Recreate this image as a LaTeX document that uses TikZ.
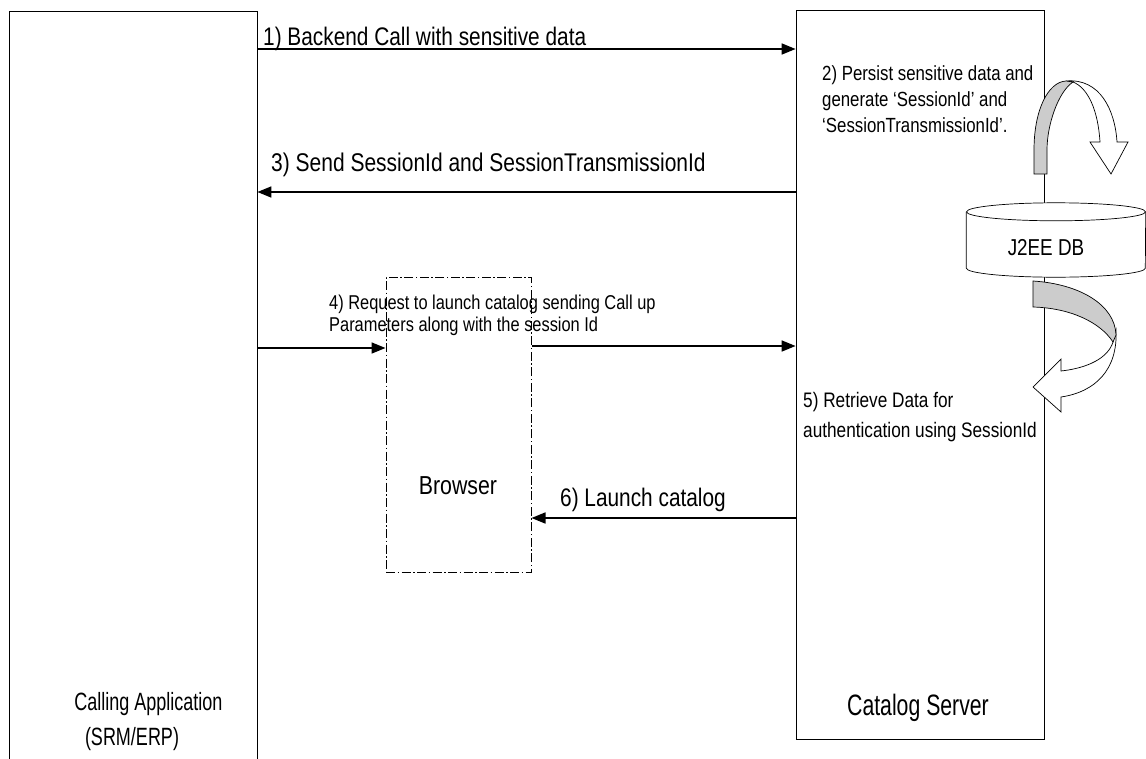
\documentclass[tikz,border=0pt]{standalone}
\usepackage{fontspec}
\setmainfont[FakeStretch=0.82]{Liberation Sans}
\newfontfamily\narrowfont[FakeStretch=0.72]{Liberation Sans}
\usetikzlibrary{arrows.meta}
\tikzset{
    >={Triangle[length=14pt, width=11pt]}, % filled heads
    box/.style={draw, line width=0.8pt, minimum width=248pt, inner sep=0pt},
    flow/.style={->, line width=1.7pt},
    lbl/.style={inner sep=0pt, anchor=base west, align=left}, % base = last line
    ribbon/.style={draw, line width=0.7pt, fill=white},
}

\begin{document}
\begin{tikzpicture}[x=1pt, y=-1pt]
    \useasboundingbox (0,0) rectangle (1146,758);
    \clip (0,0) rectangle (1146,758);

    % the two systems and the browser
    \node[box, minimum height=764pt] (app) at (133,393) {};
    \node[box, minimum height=729pt] (server) at (920,374.5) {};
    \node[box, minimum width=145pt, minimum height=295pt, line width=1pt,
          dash pattern=on 9pt off 2.5pt on 1.5pt off 2.5pt] (browser) at (458.5,424.5) {};

    % messages
    \draw[flow] (app.east |- 0,49) -- (server.west |- 0,49);
    \draw[flow] (server.west |- 0,192) -- (app.east |- 0,192);
    \draw[flow] (app.east |- 0,348) -- (browser.west |- 0,348);
    \draw[flow] (browser.east |- 0,346) -- (server.west |- 0,346);
    \draw[flow] (server.west |- 0,518) -- (browser.east |- 0,518);

    \node[lbl, font=\fontsize{25.4}{29}\selectfont] (m1) at (263,45) {1) Backend Call with sensitive data};
    \node[lbl, font=\fontsize{25.6}{29}\selectfont] (m3) at (271,171) {3) Send SessionId and SessionTransmissionId};
    \node[lbl, font=\fontsize{20}{21.5}\selectfont] (m4) at (329,331) {4) Request to launch catalog sending Call up\\Parameters along with the session Id};
    \node[lbl, font=\fontsize{25.4}{29}\selectfont] (m6) at (560,506) {6) Launch catalog};
    \node[lbl, font=\fontsize{20.5}{26}\selectfont] (m2) at (822,132) {2) Persist sensitive data and\\generate ‘SessionId’ and\\‘SessionTransmissionId’.};
    \node[lbl, font=\fontsize{21}{30}\selectfont] (m5) at (803,437) {5) Retrieve Data for\\authentication using SessionId};

    % names
    \node[font=\fontsize{26}{30}\selectfont] (browserlbl) at (458,486) {Browser};
    \node[font=\narrowfont\fontsize{25}{29}\selectfont, anchor=base] (applbl) at (148.5,710) {Calling Application};
    \node[font=\narrowfont\fontsize{25}{29}\selectfont, anchor=base] (applbl2) at (132,745) {(SRM/ERP)};
    \node[font=\narrowfont\fontsize{29.5}{33}\selectfont, anchor=base] (serverlbl) at (918,715) {Catalog Server};

    % persist loop over the server edge
    \draw[ribbon] (1066,81) .. controls (1100,78) and (1115,110) .. (1117,142)
        -- (1128,142) -- (1111,174) -- (1090,142) -- (1100,142)
        .. controls (1098,110) and (1088,88) .. (1073,82) -- cycle;
    \draw[ribbon, fill=black!20] (1034,174) -- (1034,150) .. controls (1034,110) and (1048,82) .. (1066,81)
        -- (1073,82) .. controls (1058,92) and (1047,125) .. (1047,150) -- (1047,174) -- cycle;

    % database
    \node[minimum width=179pt, minimum height=56pt, inner sep=0pt] (db) at (1056,240) {};
    \draw[ribbon] (db.north west) -- (db.south west)
        arc[start angle=180, end angle=360, x radius=89.5pt, y radius=9pt]
        -- (db.north east);
    \draw[ribbon] (db.north) ellipse[x radius=89.5pt, y radius=9pt];
    \node[font=\fontsize{23}{26}\selectfont] (dblbl) at (1046,248) {J2EE DB};

    % retrieve loop
    \draw[ribbon] (1116,330) .. controls (1118,370) and (1095,392) .. (1061,397)
        -- (1061,412) -- (1033,387) -- (1061,359) -- (1061,371)
        .. controls (1088,368) and (1108,358) .. (1113,342) -- cycle;
    \draw[ribbon, fill=black!20] (1033,281) .. controls (1080,284) and (1115,305) .. (1116,335)
        -- (1113,342) .. controls (1100,322) and (1070,308) .. (1033,307) -- cycle;
\end{tikzpicture}
\end{document}
